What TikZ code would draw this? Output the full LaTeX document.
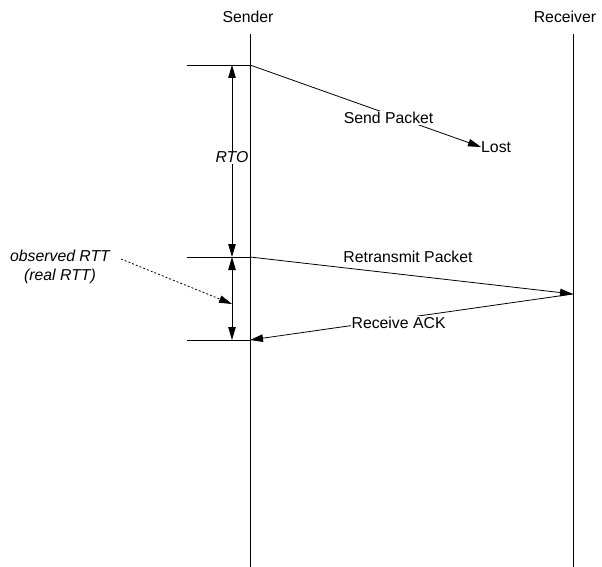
\documentclass[tikz,border=0pt]{standalone}
\usepackage{fontspec}
\setmainfont{Liberation Sans}
\usetikzlibrary{arrows.meta}
\tikzset{
  ln/.style={line width=0.8pt, black},
  arr/.style={ln, -{Triangle[length=13pt,width=7.5pt]}},
  darr/.style={ln, {Triangle[length=13pt,width=7.5pt]}-{Triangle[length=13pt,width=7.5pt]}},
  lbl/.style={font=\fontsize{15.8}{19}\selectfont, inner sep=1pt},
  ilbl/.style={lbl, font=\fontsize{15.8}{19}\selectfont\itshape},
}
\begin{document}
\begin{tikzpicture}[x=1pt,y=-1pt]
\useasboundingbox (0,0) rectangle (602,567);
% lifelines
\node[lbl] (sender) at (248,17) {Sender};
\node[lbl] (receiver) at (565,17) {Receiver};
\coordinate (s0) at (250,34); \coordinate (s1) at (250,567);
\coordinate (r0) at (573,34); \coordinate (r1) at (573,567);
\draw[ln] (s0) -- (s1);
\draw[ln] (r0) -- (r1);
% ticks
\coordinate (t1) at (187,65);  \coordinate (a1) at (250,65);
\coordinate (t2) at (187,257); \coordinate (a2) at (250,257);
\coordinate (t3) at (187,340); \coordinate (a3) at (250,340);
\draw[ln] (t1) -- (a1);
\draw[ln] (t2) -- (a2);
\draw[ln] (t3) -- (a3);
\coordinate (m1) at (232,65); \coordinate (m2) at (232,257); \coordinate (m3) at (232,340);
\coordinate (mid) at (232,304);
\coordinate (recv) at (573,294);
% RTO
\draw[darr] (m1) -- node[ilbl, fill=white, pos=0.48] (rto) {RTO} (m2);
\draw[darr] (m2) -- (m3);
% send packet lost
\node[lbl, anchor=west, inner sep=0pt] (lost) at (481,147) {Lost};
\draw[arr] (a1) -- node[lbl, fill=white, pos=0.6, yshift=-4pt] (sendp) {Send Packet} (lost.west);
% retransmit
\draw[arr] (a2) -- (recv);
\node[lbl] (retx) at (408,257) {Retransmit Packet};
% ack
\draw[arr] (recv) -- node[lbl, fill=white, pos=0.54, yshift=-4pt] (ack) {Receive ACK} (a3);
% observed RTT
\node[ilbl, align=center] (obs) at (60,267) {observed RTT\\(real RTT)};
\coordinate (obsend) at (121,259);
\draw[arr, dash pattern=on 2pt off 2pt] (obsend) -- (mid);
\end{tikzpicture}
\end{document}
